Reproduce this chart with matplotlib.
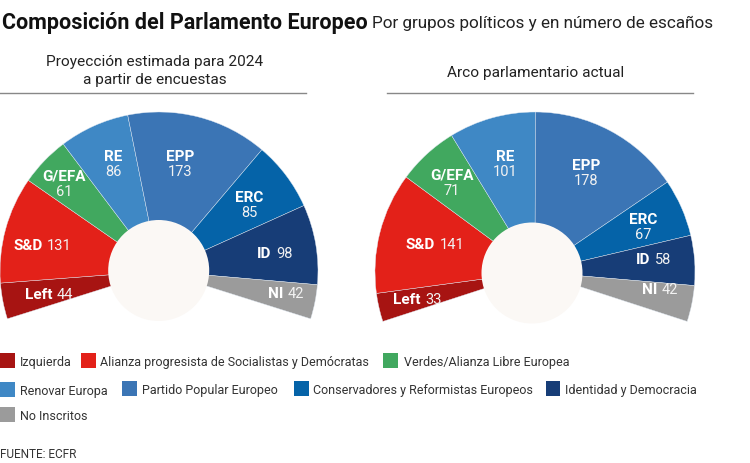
import matplotlib
matplotlib.use('Agg')
from matplotlib import pyplot as plt
from matplotlib.patches import Wedge, Circle, Rectangle

plt.rcParams['font.family'] = ['Roboto', 'DejaVu Sans']

groups = ['Left', 'S&D', 'G/EFA', 'RE', 'EPP', 'ERC', 'ID', 'NI']
seats_2024 = [44, 131, 61, 86, 173, 85, 98, 42]
seats_now = [33, 141, 71, 101, 178, 67, 58, 42]
colors = ['#A71412', '#E32119', '#41A85F', '#3F88C5', '#3B75B5', '#0563A8', '#173D77', '#9B9B9B']
legend_names = ['Izquierda', 'Alianza progresista de Socialistas y Demócratas', 'Verdes/Alianza Libre Europea',
                'Renovar Europa', 'Partido Popular Europeo', 'Conservadores y Reformistas Europeos',
                'Identidad y Democracia', 'No Inscritos']

fig = plt.figure(figsize=(7.5, 4.64), dpi=100)
ax = fig.add_axes([0, 0, 1, 1])
ax.set_xlim(0, 750)
ax.set_ylim(464, 0)
ax.axis('off')


def hemicycle(seats, cx, cy, r, start, span, hole):
    total = sum(seats)
    a = start
    for s, c in zip(seats, colors):
        b = a - s / total * span
        # y axis is inverted, so angles are mirrored
        ax.add_patch(Wedge((cx, cy), r, -a, -b, facecolor=c, edgecolor='#dfe8f2', lw=0.3))
        a = b
    ax.add_patch(Circle(hole, 50.5, facecolor='#FBF8F5', edgecolor='none'))


def label(x, y, name, value, stacked):
    y = y + 1
    if stacked:
        ax.text(x, y, name, color='white', fontsize=11, fontweight='bold', ha='center', va='center')
        ax.text(x, y + 15, str(value), color='#f2f2f2', fontsize=10.5, ha='center', va='center')
    else:
        t = ax.text(x, y, name, color='white', fontsize=11, fontweight='bold', ha='left', va='center')
        bb = t.get_window_extent(fig.canvas.get_renderer())
        ax.text(x + bb.width + 4.5, y, str(value), color='#f2f2f2', fontsize=10.5, ha='left', va='center')


hemicycle(seats_2024, 159, 272, 159, 197.5, 215, (158.7, 271.5))
hemicycle(seats_now, 535, 273, 160, 198, 216, (532, 274))

# label positions are pixel spots in the reference
spots_2024 = [(25, 294, False), (13, 245, False), (64, 176, True), (113, 156, True),
              (180, 156, True), (249, 197, True), (257, 253, False), (268, 293, False)]
spots_now = [(393, 299, False), (406, 244, False), (452, 175, True), (505, 156, True),
             (586, 165, True), (643, 219, True), (636, 259, False), (642, 289, False)]
for (x, y, st), n, v in zip(spots_2024, groups, seats_2024):
    label(x, y, n, v, st)
for (x, y, st), n, v in zip(spots_now, groups, seats_now):
    label(x, y, n, v, st)

# titulo
ax.text(2, 23, 'Composición del Parlamento Europeo', fontsize=15.5, fontweight='bold', color='#111111', va='center')
ax.text(372, 23, 'Por grupos políticos y en número de escaños', fontsize=12.3, color='#222222', va='center')
ax.text(154.5, 62, 'Proyección estimada para 2024', fontsize=11.1, color='#222222', ha='center', va='center')
ax.text(154.5, 80, 'a partir de encuestas', fontsize=11.1, color='#222222', ha='center', va='center')
ax.text(536, 73, 'Arco parlamentario actual', fontsize=11.1, color='#222222', ha='center', va='center')
ax.plot([0, 306], [93.5, 93.5], color='#888888', lw=1)
ax.plot([387, 693], [93.5, 93.5], color='#888888', lw=1)

# leyenda
legend_x = [0, 81, 383, 0, 122, 294, 545.5, 0]
text_x = [20, 100.5, 404, 20, 141.5, 313, 565, 20]
legend_y = [361, 361, 361, 390, 389, 389, 389, 415]
for x, tx, y, c, n in zip(legend_x, text_x, legend_y, colors, legend_names):
    ax.add_patch(Rectangle((x, y - 7.5), 14.5, 15, facecolor=c, edgecolor='none'))
    ax.text(tx, y + 1.5, n, fontsize=9, color='#333333', va='center')
ax.text(0, 455, 'FUENTE: ECFR', fontsize=8.5, color='#333333', va='center')

fig.savefig('out.png', dpi=100)
